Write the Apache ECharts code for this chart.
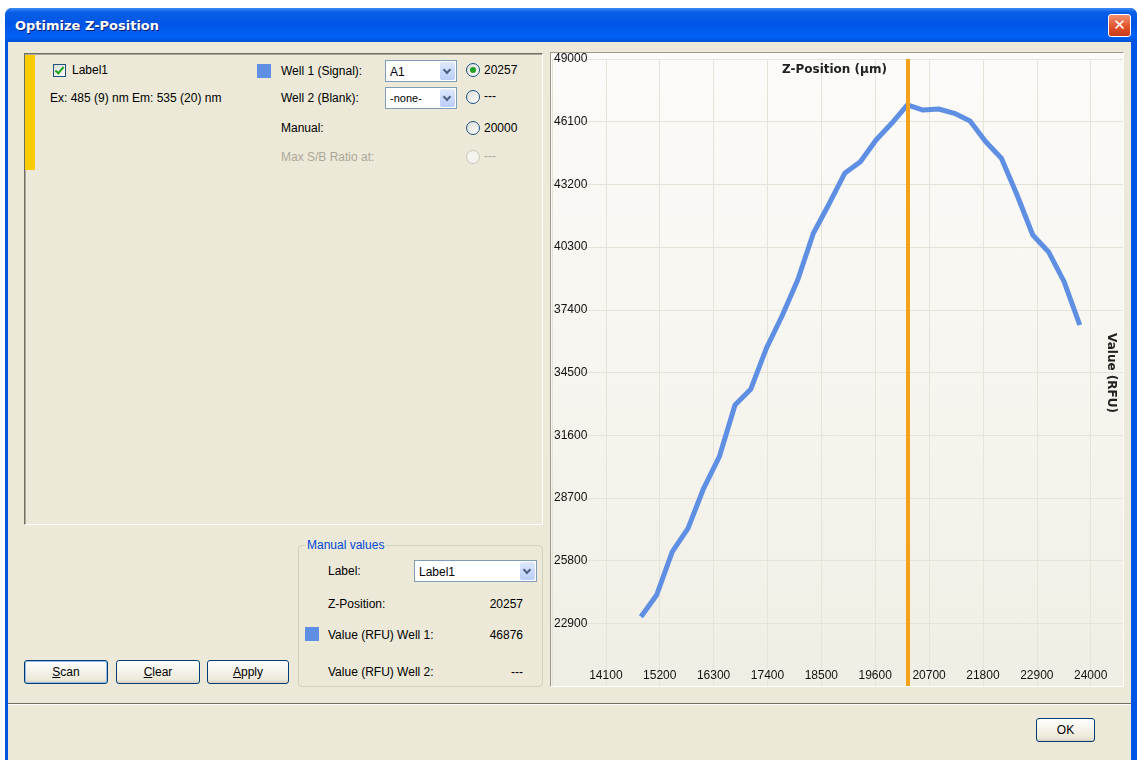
<!DOCTYPE html>
<html>
<head>
<meta charset="utf-8">
<title>Optimize Z-Position</title>
<script src="https://cdn.jsdelivr.net/npm/echarts@6/dist/echarts.min.js"></script>
<style>
  html, body { margin: 0; padding: 0; width: 1137px; height: 760px; overflow: hidden; background: #fff; }
  body { font-family: "Liberation Sans", "DejaVu Sans", sans-serif; font-size: 12px; color: #000; }
  .win { position: absolute; left: 5px; top: 8px; width: 1132px; height: 760px; background: #0054e3; border-radius: 7px 7px 0 0; }
  .titlebar { position: absolute; left: 0; top: 0; width: 1132px; height: 34px; border-radius: 7px 7px 0 0;
    background: linear-gradient(to bottom, #3c8cf5 0%, #0a5fe6 12%, #0055e5 45%, #0061f5 85%, #0050d8 100%); }
  .titlebar .t { position: absolute; left: 10px; top: 10px; color: #fff; font: bold 13px "DejaVu Sans", sans-serif; text-shadow: 1px 1px #0a1f6e; }
  .close { position: absolute; left: 1103px; top: 6px; width: 21px; height: 21px; border: 1px solid #fff; border-radius: 3px;
    background: linear-gradient(to bottom, #f09070, #e0502a 60%, #c83a18); color: #fff; font: bold 15px "DejaVu Sans"; text-align: center; line-height: 20px; }
  .body { position: absolute; left: 3px; top: 34px; width: 1123px; height: 730px; background: #ece9d8; }
  .abs { position: absolute; white-space: nowrap; }
  .panel { position: absolute; left: 16px; top: 11px; width: 517px; height: 470px; border: 1px solid; border-color: #716f64 #fff #fff #716f64; box-shadow: inset 1px 1px #aca899; }
  .ybar { position: absolute; left: 17px; top: 13px; width: 10px; height: 115px; background: #ffcc00; }
  .chk { position: absolute; width: 11px; height: 11px; border: 1px solid #1c5180; background: linear-gradient(135deg,#dcdcd6,#fff); }
  .chk::after { content: ""; position: absolute; left: 3px; top: 0px; width: 3px; height: 7px; border: solid #21a121; border-width: 0 2px 2px 0; transform: rotate(40deg); }
  .sq { position: absolute; width: 14px; height: 14px; background: #5e8fe3; }
  .combo { position: absolute; height: 20px; border: 1px solid #7f9db9; background: #fff; }
  .combo span { position: absolute; left: 4px; top: 4px; }
  .combo i { position: absolute; right: 1px; top: 1px; width: 15px; height: 18px; border-radius: 2px; background: linear-gradient(#dfe8fd,#b9cdf9); }
  .combo i::after { content: ""; position: absolute; left: 4px; top: 5px; width: 4px; height: 4px; border: solid #4d6185; border-width: 0 2px 2px 0; transform: rotate(45deg); }
  .radio { position: absolute; width: 12px; height: 12px; border: 1px solid #1c5180; border-radius: 50%; background: linear-gradient(135deg,#dcdcd6,#fff); }
  .radio.on::after { content: ""; position: absolute; left: 3px; top: 3px; width: 6px; height: 6px; border-radius: 50%; background: #21a121; }
  .radio.off { border-color: #cac8bb; background: #f4f3ee; }
  .grey { color: #aca899; }
  .btn { position: absolute; height: 22px; border: 1px solid #003c74; border-radius: 3px; background: linear-gradient(#fff,#ece9d8 85%,#d6d0c5); text-align: center; line-height: 22px; }
  .btn.def { box-shadow: inset 0 0 0 1px #98b8ea; }
  .grp { position: absolute; left: 290px; top: 503px; width: 243px; height: 140px; border: 1px solid #d0d0bf; border-radius: 4px; }
  .grp .lg { position: absolute; left: 6px; top: -8px; padding: 0 2px; background: #ece9d8; color: #0046d5; }
  .sep { position: absolute; left: 0; top: 661px; width: 1123px; height: 1px; background: #716f64; border-bottom: 1px solid #fff; }
  .frame { position: absolute; left: 542px; top: 10px; width: 572px; height: 633px; border: 1px solid #9d9a8c; border-right-color: #fff; border-bottom-color: #fff; }
  #chart { position: absolute; left: 0; top: 0; width: 572px; height: 633px;
    background: linear-gradient(to bottom, #fcfbf9 0%, #f7f5ef 50%, #f0eee4 100%); }
</style>
</head>
<body>
<div class="win">
  <div class="titlebar"><div class="t">Optimize Z-Position</div><div class="close">✕</div></div>
  <div class="body">
    <div class="panel"></div>
    <div class="ybar"></div>
    <div class="chk" style="left:45px;top:22px"></div>
    <div class="abs" style="left:64px;top:21px">Label1</div>
    <div class="abs" style="left:42px;top:49px">Ex: 485 (9) nm Em: 535 (20) nm</div>

    <div class="sq" style="left:249px;top:22px"></div>
    <div class="abs" style="left:273px;top:22px">Well 1 (Signal):</div>
    <div class="combo" style="left:377px;top:18px;width:70px"><span>A1</span><i></i></div>
    <div class="radio on" style="left:458px;top:21px"></div>
    <div class="abs" style="left:476px;top:21px">20257</div>

    <div class="abs" style="left:273px;top:49px">Well 2 (Blank):</div>
    <div class="combo" style="left:377px;top:45px;width:70px"><span style="font-size:11px">-none-</span><i></i></div>
    <div class="radio" style="left:458px;top:48px"></div>
    <div class="abs" style="left:476px;top:47px">---</div>

    <div class="abs" style="left:273px;top:79px">Manual:</div>
    <div class="radio" style="left:458px;top:79px"></div>
    <div class="abs" style="left:476px;top:79px">20000</div>

    <div class="abs grey" style="left:273px;top:108px">Max S/B Ratio at:</div>
    <div class="radio off" style="left:458px;top:108px"></div>
    <div class="abs grey" style="left:476px;top:107px">---</div>

    <div class="grp"><div class="lg">Manual values</div></div>
    <div class="abs" style="left:320px;top:522px">Label:</div>
    <div class="combo" style="left:406px;top:518px;width:121px"><span>Label1</span><i></i></div>
    <div class="abs" style="left:320px;top:555px">Z-Position:</div>
    <div class="abs" style="left:475px;top:555px;width:40px;text-align:right">20257</div>
    <div class="sq" style="left:297px;top:585px"></div>
    <div class="abs" style="left:320px;top:586px">Value (RFU) Well 1:</div>
    <div class="abs" style="left:475px;top:586px;width:40px;text-align:right">46876</div>
    <div class="abs" style="left:320px;top:623px">Value (RFU) Well 2:</div>
    <div class="abs" style="left:475px;top:623px;width:40px;text-align:right">---</div>

    <div class="btn def" style="left:16px;top:618px;width:82px"><u>S</u>can</div>
    <div class="btn" style="left:108px;top:618px;width:82px"><u>C</u>lear</div>
    <div class="btn" style="left:199px;top:618px;width:80px"><u>A</u>pply</div>

    <div class="frame"><div id="chart"></div></div>

    <div class="sep"></div>
    <div class="btn" style="left:1028px;top:676px;width:57px">OK</div>
  </div>
</div>
<script>
// scan positions (µm) and signal of well 1 (RFU)
const zPositions = [14817, 15137, 15457, 15777, 16097, 16417, 16737, 17057, 17377, 17697,
  18017, 18337, 18657, 18977, 19297, 19617, 19937, 20257, 20577, 20897,
  21217, 21537, 21857, 22177, 22497, 22817, 23137, 23457, 23777];
const rfuValues = [23206, 24210, 26213, 27294, 29145, 30606, 32997, 33723, 35620, 37114,
  38779, 40939, 42294, 43714, 44250, 45254, 46026, 46876, 46641, 46687,
  46489, 46132, 45175, 44407, 42710, 40860, 40088, 38700, 36697];
const selectedZ = 20257;

const xMin = 13000, xMax = 24660, xStep = 1100;
const yMin = 20000, yMax = 49000, yStep = 2900;

const chart = echarts.init(document.getElementById('chart'));
const labelFont = { fontFamily: 'Liberation Sans', fontSize: 12, color: '#111' };
const plain = v => String(v);

chart.setOption({
  animation: false,
  backgroundColor: 'transparent',
  grid: { left: 0, right: 0, top: 6, bottom: 0 },
  title: {
    text: 'Z-Position (µm)',
    left: 226, top: 6,
    textStyle: { fontFamily: 'DejaVu Sans', fontWeight: 'bold', fontSize: 12, color: '#222' }
  },
  graphic: [{
    type: 'text',
    x: 560, y: 320,
    rotation: -Math.PI / 2,
    style: {
      text: 'Value (RFU)', align: 'center', verticalAlign: 'middle',
      font: 'bold 12px "DejaVu Sans"', fill: '#222'
    }
  }],
  xAxis: {
    type: 'value', min: xMin, max: xMax, interval: xStep,
    axisLine: { show: false }, axisTick: { show: false },
    axisLabel: { inside: true, margin: 4, showMinLabel: false, showMaxLabel: false, formatter: plain, ...labelFont },
    splitLine: { lineStyle: { color: '#e6e3d9', width: 1 } }
  },
  yAxis: {
    type: 'value', min: yMin, max: yMax, interval: yStep,
    axisLine: { show: false }, axisTick: { show: false },
    axisLabel: { inside: true, margin: 2, showMinLabel: false, formatter: plain, ...labelFont },
    splitLine: { lineStyle: { color: '#e6e3d9', width: 1 } }
  },
  series: [{
    type: 'line',
    data: zPositions.map((z, i) => [z, rfuValues[i]]),
    symbol: 'none',
    lineStyle: { color: '#5e8fe3', width: 5 },
    markLine: {
      silent: true, symbol: 'none',
      label: { show: false },
      lineStyle: { color: '#f4a21a', width: 4, type: 'solid' },
      data: [{ xAxis: selectedZ }]
    }
  }]
});
</script>
</body>
</html>
